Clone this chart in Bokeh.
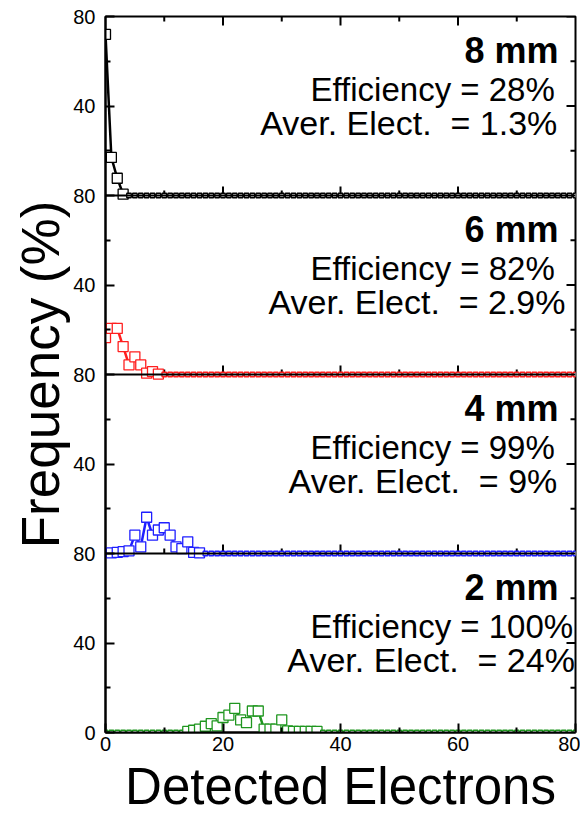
from bokeh.plotting import figure
from bokeh.models import Range1d, FixedTicker, Span, Label, ColumnDataSource
from bokeh.embed import file_html
from bokeh.resources import INLINE

# ---------------- data ----------------
electrons = list(range(81))

freq_8mm = [72, 17, 7.7, 0.6, 0, 0, 0, 0, 0, 0,
            0, 0, 0, 0, 0, 0, 0, 0, 0, 0,
            0, 0, 0, 0, 0, 0, 0, 0, 0, 0,
            0, 0, 0, 0, 0, 0, 0, 0, 0, 0,
            0, 0, 0, 0, 0, 0, 0, 0, 0, 0,
            0, 0, 0, 0, 0, 0, 0, 0, 0, 0,
            0, 0, 0, 0, 0, 0, 0, 0, 0, 0,
            0, 0, 0, 0, 0, 0, 0, 0, 0, 0, 0]

freq_6mm = [16.5, 20.6, 20.6, 12.5, 4.3, 7.9, 4.3, 0.6, 1.3, 0.2,
            0, 0, 0, 0, 0, 0, 0, 0, 0, 0,
            0, 0, 0, 0, 0, 0, 0, 0, 0, 0,
            0, 0, 0, 0, 0, 0, 0, 0, 0, 0,
            0, 0, 0, 0, 0, 0, 0, 0, 0, 0,
            0, 0, 0, 0, 0, 0, 0, 0, 0, 0,
            0, 0, 0, 0, 0, 0, 0, 0, 0, 0,
            0, 0, 0, 0, 0, 0, 0, 0, 0, 0, 0]

freq_4mm = [0, 0.3, 0.5, 0.8, 1.2, 8.2, 3.0, 16.2, 8.2, 10.5,
            11.5, 8.2, 3.0, 2.2, 5.2, 0.5, 0.3, 0, 0, 0,
            0, 0, 0, 0, 0, 0, 0, 0, 0, 0,
            0, 0, 0, 0, 0, 0, 0, 0, 0, 0,
            0, 0, 0, 0, 0, 0, 0, 0, 0, 0,
            0, 0, 0, 0, 0, 0, 0, 0, 0, 0,
            0, 0, 0, 0, 0, 0, 0, 0, 0, 0,
            0, 0, 0, 0, 0, 0, 0, 0, 0, 0, 0]

freq_2mm = [0, 0, 0, 0, 0, 0, 0, 0, 0, 0,
            0, 0, 0, 0, 0.5, 1.0, 1.5, 2.8, 4.0, 3.0,
            6.7, 7.8, 10.8, 5.6, 4.4, 9.6, 9.6, 1.5, 1.5, 1.5,
            5.6, 0.7, 0.5, 0.5, 0.5, 0.5, 0.5, 0, 0, 0,
            0, 0, 0, 0, 0, 0, 0, 0, 0, 0,
            0, 0, 0, 0, 0, 0, 0, 0, 0, 0,
            0, 0, 0, 0, 0, 0, 0, 0, 0, 0,
            0, 0, 0, 0, 0, 0, 0, 0, 0, 0, 0]

series = [freq_8mm, freq_6mm, freq_4mm, freq_2mm]          # top -> bottom
gap_labels = ["8 mm", "6 mm", "4 mm", "2 mm"]
efficiency_labels = ["Efficiency = 28%", "Efficiency = 82%",
                     "Efficiency = 99%", "Efficiency = 100%"]
average_labels = ["Aver. Elect.\u00a0 = 1.3%", "Aver. Elect.\u00a0 = 2.9%",
                  "Aver. Elect.\u00a0 = 9%", "Aver. Elect.\u00a0 = 24%"]
x_title = "Detected Electrons"
y_title = "Frequency (%)"
y_ticks = [0, 40, 80]
y_minor = [20, 60]
x_ticks = [0, 20, 40, 60, 80]
x_minor = [10, 30, 50, 70]

# ---------------- styles / layout ----------------
colors = ["black", "#ff1f1f", "#1f1fff", "#1f961f"]
FONT = "Liberation Sans"
PANEL = 80
N = len(series)
aver_right = [76.9, 78.3, 76.9, 79.9]

FRAME_H = 715.5
FRAME_W = 470.0
p = figure(width=580, height=818, output_backend="svg", toolbar_location=None,
           x_range=Range1d(0, 80), y_range=Range1d(0, PANEL * N),
           min_border_left=105, min_border_right=5, min_border_top=16,
           min_border_bottom=86)
p.grid.visible = False
p.outline_line_color = "black"
p.outline_line_width = 2
p.background_fill_color = "white"
p.border_fill_color = "white"

# y ticks for stacked panels
ticks, minors, overrides = [], [], {}
for k in range(N):
    for t in y_ticks:
        key = k * PANEL + t
        if key not in overrides:
            overrides[key] = str(t)
            ticks.append(key)
    for t in y_minor:
        minors.append(k * PANEL + t)

MAJ, MIN = 9, 5


def style_axis(ax):
    ax.axis_line_width = 2
    ax.major_tick_in = MAJ
    ax.major_tick_out = 0
    ax.minor_tick_in = MIN
    ax.minor_tick_out = 0
    ax.major_tick_line_width = 2
    ax.minor_tick_line_width = 2
    ax.major_label_text_font = FONT
    ax.major_label_text_color = "black"
    ax.major_label_text_font_size = "20px"
    ax.axis_label_text_font = FONT
    ax.axis_label_text_font_style = "normal"
    ax.axis_label_text_color = "black"


yax = p.yaxis[0]
yax.ticker = FixedTicker(ticks=ticks, minor_ticks=minors)
yax.major_label_overrides = overrides
style_axis(yax)
yax.major_label_standoff = 10
yax.axis_label = y_title
yax.axis_label_text_font_size = "53px"
yax.axis_label_standoff = 0

xax = p.xaxis[0]
xax.ticker = FixedTicker(ticks=x_ticks, minor_ticks=x_minor)
style_axis(xax)
xax.major_label_standoff = 4
xax.axis_label = x_title
xax.axis_label_text_font_size = "51px"
xax.axis_label_standoff = 4

# extra inward ticks: panel separators, top edge, right edge
ypx = PANEL * N / FRAME_H
xpx = 80 / FRAME_W
maj_y, min_y = MAJ * ypx, MIN * ypx
maj_x, min_x = MAJ * xpx, MIN * xpx
seg = dict(x0=[], y0=[], x1=[], y1=[])


def add_seg(x0, y0, x1, y1):
    seg["x0"].append(x0); seg["y0"].append(y0)
    seg["x1"].append(x1); seg["y1"].append(y1)


for k in range(1, N):
    p.add_layout(Span(location=k * PANEL, dimension="width",
                      line_color="black", line_width=2))
    for xt in x_ticks[1:-1]:
        add_seg(xt, k * PANEL, xt, k * PANEL + maj_y)
    for xt in x_minor:
        add_seg(xt, k * PANEL, xt, k * PANEL + min_y)
top = PANEL * N
for xt in x_ticks[1:-1]:
    add_seg(xt, top, xt, top - maj_y)
for xt in x_minor:
    add_seg(xt, top, xt, top - min_y)
for yt in ticks:
    add_seg(80, yt, 80 - maj_x, yt)
for yt in minors:
    add_seg(80, yt, 80 - min_x, yt)
p.segment("x0", "y0", "x1", "y1", source=ColumnDataSource(seg),
          line_color="black", line_width=2)

# panels
ranges = {}
for k in range(N):
    offset = PANEL * (N - 1 - k)
    ranges[f"panel{k}"] = Range1d(-offset, PANEL * N - offset)
p.extra_y_ranges = ranges

for k, (vals, col) in enumerate(zip(series, colors)):
    name = f"panel{k}"
    src = ColumnDataSource(dict(x=electrons, y=vals,
                                s=[10 if v > 0 else 4.5 for v in vals]))
    p.line("x", "y", source=src, y_range_name=name, line_color=col, line_width=2.5)
    p.scatter("x", "y", source=src, y_range_name=name, marker="square",
              size="s", line_color=col, fill_color="white", line_width=1.3)

    p.add_layout(Label(x=77.1, y=PANEL - 34 / 2.236, y_range_name=name,
                       text=gap_labels[k], text_align="right",
                       text_baseline="middle", text_font=FONT,
                       text_font_size="36px", text_font_style="bold",
                       text_color="black"))
    p.add_layout(Label(x=34.9, y=PANEL - 73 / 2.236, y_range_name=name,
                       text=efficiency_labels[k], text_align="left",
                       text_baseline="middle", text_font=FONT,
                       text_font_size="33px", text_color="black"))
    p.add_layout(Label(x=aver_right[k], y=PANEL - 106 / 2.236, y_range_name=name,
                       text=average_labels[k], text_align="right",
                       text_baseline="middle", text_font=FONT,
                       text_font_size="34px", text_color="black"))

open("out.html", "w").write(file_html(p, INLINE))
